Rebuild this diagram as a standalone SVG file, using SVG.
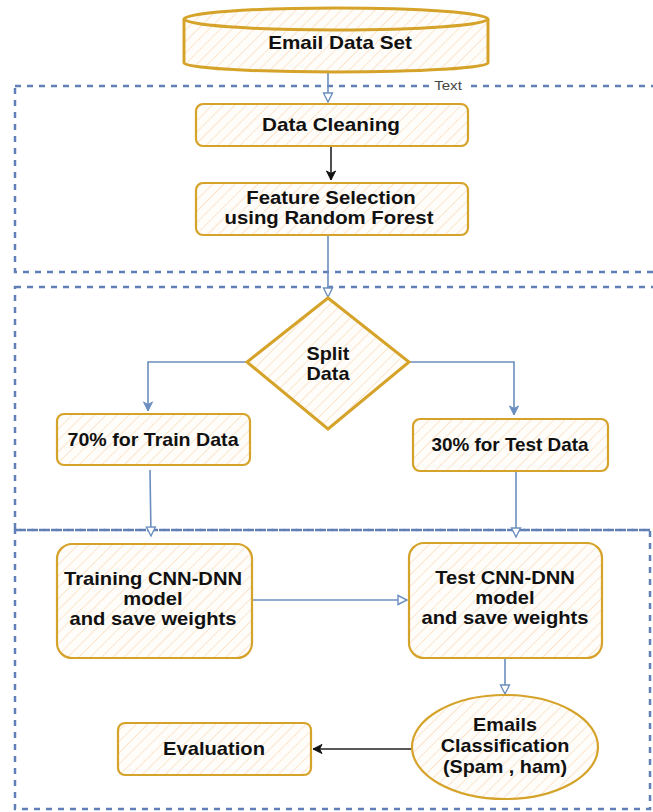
<svg xmlns="http://www.w3.org/2000/svg" width="653" height="812" viewBox="0 0 653 812">
<style>
.t{font-family:"Liberation Sans",Arial,sans-serif;font-weight:bold;font-size:18px;fill:#111;text-anchor:middle}
.lbl{font-family:"Liberation Sans",Arial,sans-serif;font-size:13.5px;fill:#444;text-anchor:middle}
.node{fill:url(#hatch);stroke:#d6a32a;stroke-width:2.2}
.thick{stroke-width:3}
.cont{fill:none;stroke:#5f7fb6;stroke-width:2.5;stroke-dasharray:6 6}
.blue{fill:none;stroke:#6c8ebf;stroke-width:1.6}
.black{fill:none;stroke:#222;stroke-width:1.6}
</style>
<defs>
<pattern id="hatch" patternUnits="userSpaceOnUse" width="8" height="8" patternTransform="rotate(45)">
<rect width="8" height="8" fill="#fffdfa"/>
<line x1="0" y1="0" x2="0" y2="8" stroke="#f8d8b8" stroke-width="1.3"/>
</pattern>
<marker id="openTri" markerWidth="12" markerHeight="12" refX="10" refY="6" orient="auto" markerUnits="userSpaceOnUse">
<path d="M1,1.5 L10,6 L1,10.5 Z" fill="#fff" stroke="#6c8ebf" stroke-width="1.4"/>
</marker>
<marker id="blueFill" markerWidth="12" markerHeight="12" refX="10" refY="6" orient="auto" markerUnits="userSpaceOnUse">
<path d="M1,1.5 L10,6 L1,10.5 L3.5,6 Z" fill="#6c8ebf" stroke="#6c8ebf" stroke-width="1"/>
</marker>
<marker id="blackFill" markerWidth="12" markerHeight="12" refX="10" refY="6" orient="auto" markerUnits="userSpaceOnUse">
<path d="M1,1.5 L10,6 L1,10.5 L3.5,6 Z" fill="#111" stroke="#111" stroke-width="1"/>
</marker>
</defs>
<rect width="653" height="812" fill="#fff"/>

<g id="containers">
<rect class="cont" x="15" y="86" width="670" height="186"/>
<rect class="cont" x="15" y="287" width="670" height="243"/>
<rect class="cont" x="15" y="530" width="635" height="279"/>
<rect x="430" y="78" width="37" height="15" fill="#fff"/>
<text class="lbl" transform="translate(448 90) scale(1.12 1)">Text</text>
</g>

<g id="connectors">
<path class="blue" d="M328,73 L328,102" marker-end="url(#openTri)"/>
<path class="black" d="M331,146 L331,180" marker-end="url(#blackFill)"/>
<path class="blue" d="M328,235 L328,297" marker-end="url(#openTri)"/>
<path class="blue" d="M248,362 L148,362 L148,411" marker-end="url(#blueFill)"/>
<path class="blue" d="M408,362 L514,362 L514,415" marker-end="url(#blueFill)"/>
<path class="blue" d="M150,470 L151,536" marker-end="url(#openTri)"/>
<path class="blue" d="M516,471 L516,537" marker-end="url(#openTri)"/>
<path class="blue" d="M252,600 L407,600" marker-end="url(#openTri)"/>
<path class="blue" d="M505,658 L505,694" marker-end="url(#openTri)"/>
<path class="black" d="M412,749 L313,749" marker-end="url(#blackFill)"/>
</g>

<g id="email-data-set">
<path class="node thick" d="M184,19 A152,11 0 0 1 488,19 L488,63 A152,9 0 0 1 184,63 Z"/>
<path fill="none" stroke="#d6a32a" stroke-width="3" d="M184,19 A152,11 0 0 0 488,19"/>
<text class="t" transform="translate(340 49) scale(1.15 1)">Email Data Set</text>
</g>

<g id="data-cleaning">
<rect class="node" x="196" y="104" width="272" height="42" rx="7"/>
<text class="t" transform="translate(331 131) scale(1.15 1)">Data Cleaning</text>
</g>

<g id="feature-selection">
<rect class="node" x="196" y="183" width="272" height="52" rx="7"/>
<text class="t" transform="translate(331 204) scale(1.13 1)">Feature Selection</text>
<text class="t" transform="translate(329 224) scale(1.13 1)">using Random Forest</text>
</g>

<g id="split-data">
<path class="node thick" d="M328,298 L409,362 L328,429 L247,362 Z"/>
<text class="t" transform="translate(328 360) scale(1.1 1)">Split</text>
<text class="t" transform="translate(328 380) scale(1.1 1)">Data</text>
</g>

<g id="train-data">
<rect class="node" x="57" y="414" width="193" height="51" rx="7"/>
<text class="t" transform="translate(153 446) scale(1.09 1)">70% for Train Data</text>
</g>

<g id="test-data">
<rect class="node" x="413" y="419" width="195" height="52" rx="7"/>
<text class="t" transform="translate(510 451) scale(1.05 1)">30% for Test Data</text>
</g>

<g id="training-model">
<rect class="node" x="57" y="544" width="195" height="114" rx="15"/>
<text class="t" transform="translate(153 585) scale(1.12 1)">Training CNN-DNN</text>
<text class="t" transform="translate(153 605) scale(1.12 1)">model</text>
<text class="t" transform="translate(153 625) scale(1.12 1)">and save weights</text>
</g>

<g id="test-model">
<rect class="node" x="409" y="543" width="193" height="115" rx="15"/>
<text class="t" transform="translate(505 584) scale(1.12 1)">Test CNN-DNN</text>
<text class="t" transform="translate(505 604) scale(1.12 1)">model</text>
<text class="t" transform="translate(505 624) scale(1.12 1)">and save weights</text>
</g>

<g id="emails-classification">
<ellipse class="node" cx="505" cy="747" rx="93" ry="52"/>
<text class="t" transform="translate(505 731) scale(1.1 1)">Emails</text>
<text class="t" transform="translate(505 752) scale(1.1 1)">Classification</text>
<text class="t" transform="translate(505 773) scale(1.1 1)">(Spam , ham)</text>
</g>

<g id="evaluation">
<rect class="node" x="118" y="723" width="193" height="52" rx="7"/>
<text class="t" transform="translate(214 755) scale(1.12 1)">Evaluation</text>
</g>
</svg>
